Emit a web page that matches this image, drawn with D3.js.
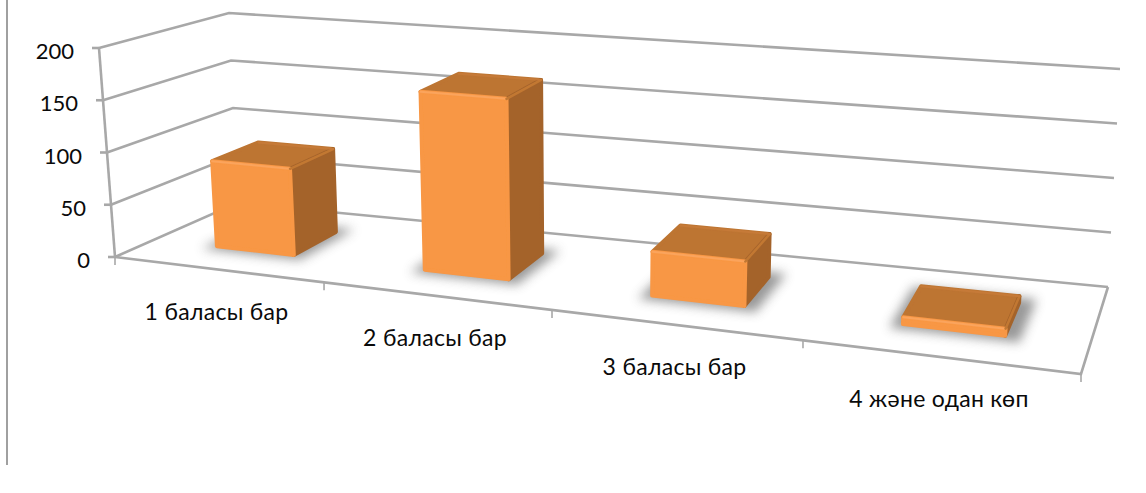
<!DOCTYPE html>
<html>
<head>
<meta charset="utf-8">
<script src="https://cdn.jsdelivr.net/npm/d3@7"></script>
<style>
  html, body { margin: 0; padding: 0; background: #fff; }
  svg { display: block; }
  text { font-family: Lato, "Noto Sans", sans-serif; fill: #0a0a0a; }
</style>
</head>
<body>
<svg id="chart" width="1146" height="493"></svg>
<script>
const categories = ["1 баласы бар", "2 баласы бар", "3 баласы бар", "4 және одан көп"];
const values = [83, 168, 40, 6];
const yTicks = [0, 50, 100, 150, 200];

const W = 1146, H = 493;
const svg = d3.select("#chart").attr("viewBox", `0 0 ${W} ${H}`);

// ── Box corners of the 3D plot, on screen ────────────────────────────
const frontLeft  = { base: [115, 257], top: [99, 48] };
const frontRight = { base: [1081, 374], top: [1098, 131] };
const backLeft   = { base: [237, 203], top: [229, 13] };
const backRight  = { base: [1108, 287], top: [1120, 69] };

// perspective makes the category slots grow to the right
const xScale = d3.scaleLinear().domain([0, 1, 2, 3, 4]).range([0, 0.2164, 0.4524, 0.7122, 1]);
const yScale = d3.scaleLinear().domain([0, 200]).range([0, 1]);

const mix = (a, b, t) => [a[0] + (b[0] - a[0]) * t, a[1] + (b[1] - a[1]) * t];

// u: category position, v: value, d: depth 0 (front) to 1 (back)
function project(u, v, d) {
    const s = xScale(u), h = yScale(v);
    const fl = mix(frontLeft.base, frontLeft.top, h);
    const fr = mix(frontRight.base, frontRight.top, h);
    const bl = mix(backLeft.base, backLeft.top, h);
    const br = mix(backRight.base, backRight.top, h);
    return mix(mix(fl, fr, s), mix(bl, br, s), d);
}

const line = d3.line();
const axisColor = "#a8a8a8";

const defs = svg.append("defs");
defs.append("filter").attr("id", "shadowBlur")
    .attr("x", "-30%").attr("y", "-60%").attr("width", "160%").attr("height", "220%")
    .append("feGaussianBlur").attr("stdDeviation", 5.5);
defs.append("filter").attr("id", "soft")
    .attr("filterUnits", "userSpaceOnUse")
    .attr("x", 0).attr("y", 0).attr("width", W).attr("height", H)
    .append("feGaussianBlur").attr("stdDeviation", 0.7);
defs.append("filter").attr("id", "lineSoft")
    .attr("filterUnits", "userSpaceOnUse")
    .attr("x", 0).attr("y", 0).attr("width", W).attr("height", H)
    .append("feGaussianBlur").attr("stdDeviation", 0.35);

// outer frame, only the left edge shows
svg.append("line")
    .attr("x1", 7).attr("y1", 0).attr("x2", 7).attr("y2", 465)
    .attr("stroke", "#a0a0a0").attr("stroke-width", 2);

// ── Gridlines on walls ───────────────────────────────────────────────
const grid = svg.append("g").attr("fill", "none").attr("stroke", axisColor)
    .attr("stroke-width", 2.6).attr("filter", "url(#lineSoft)");
yTicks.forEach(v => {
    grid.append("path").attr("d", line([project(0, v, 0), project(0, v, 1), project(4, v, 1)]));
    const p = project(0, v, 0);
    grid.append("path").attr("d", line([[p[0] - 7, p[1]], p]));
});
grid.append("path").attr("d", line([project(0, 200, 0), project(0, 0, 0)]));
grid.append("path").attr("d", line([project(0, 0, 0), project(4, 0, 0), project(4, 0, 1)]));
d3.range(0, 5).forEach(u => {
    const p = project(u, 0, 0);
    grid.append("path").attr("d", line([p, [p[0], p[1] + 8]])).attr("stroke-width", 1.6);
});

// ── Axis labels ──────────────────────────────────────────────────────
svg.append("g").selectAll("text").data(yTicks).enter().append("text")
    .attr("x", d => project(0, d, 0)[0] - 25)
    .attr("y", d => project(0, d, 0)[1] + 11)
    .attr("text-anchor", "end").attr("font-size", 22)
    .text(d => d);

svg.append("g").selectAll("text").data(categories).enter().append("text")
    .attr("x", (d, i) => project(i + 0.5, 0, 0)[0] - 3)
    .attr("y", (d, i) => project(i + 0.5, 0, 0)[1] + 50)
    .attr("text-anchor", "middle").attr("font-size", 23).attr("letter-spacing", 0.3)
    .text(d => d);

// ── Bars ─────────────────────────────────────────────────────────────
const halfL = 0.195, halfR = 0.185, dFront = 0.33, dBack = 0.72;
const shape = (pts, fill) => ({ pts, fill });

const bars = svg.append("g").selectAll("g").data(values).enter().append("g");

bars.each(function (val, i) {
    const g = d3.select(this);
    const l = i + 0.5 - halfL, r = i + 0.5 + halfR;

    // floor shadow
    g.append("path")
        .attr("d", line([
            project(l - 0.04, 0, dFront - 0.06), project(r + 0.06, 0, dFront - 0.06),
            project(r + 0.06, 0, dBack + 0.06), project(l - 0.04, 0, dBack + 0.06)
        ]) + "Z")
        .attr("fill", "#555").attr("opacity", 0.6)
        .attr("filter", "url(#shadowBlur)");

    const faces = [
        shape([project(l, val, dBack), project(r, val, dBack), project(r, val, dFront), project(l, val, dFront)], "#bd7431"),
        shape([project(r, 0, dFront), project(r, 0, dBack), project(r, val, dBack), project(r, val, dFront)], "#a4632b"),
        shape([project(l, 0, dFront), project(r, 0, dFront), project(r, val, dFront), project(l, val, dFront)], "#f89744")
    ];
    g.selectAll("path.face").data(faces).enter().append("path")
        .attr("class", "face")
        .attr("d", d => line(d.pts) + "Z")
        .attr("fill", d => d.fill)
        .attr("stroke", d => d.fill)
        .attr("stroke-width", 4)
        .attr("stroke-linejoin", "round")
        .attr("filter", "url(#soft)");

    // bevel along the box edges
    const bevel = (a, b, color, width) => g.append("path")
        .attr("d", line([a, b]))
        .attr("stroke", color).attr("stroke-width", width).attr("fill", "none")
        .attr("stroke-linecap", "round").attr("filter", "url(#soft)");
    bevel(project(l, val, dFront), project(r, val, dFront), "#fba45c", 2);
    bevel(project(r, val, dFront), project(r, val, dBack), "#c27833", 2.5);
    bevel(project(l, val, dBack), project(r, val, dBack), "#c67a38", 2);
});
</script>
</body>
</html>
